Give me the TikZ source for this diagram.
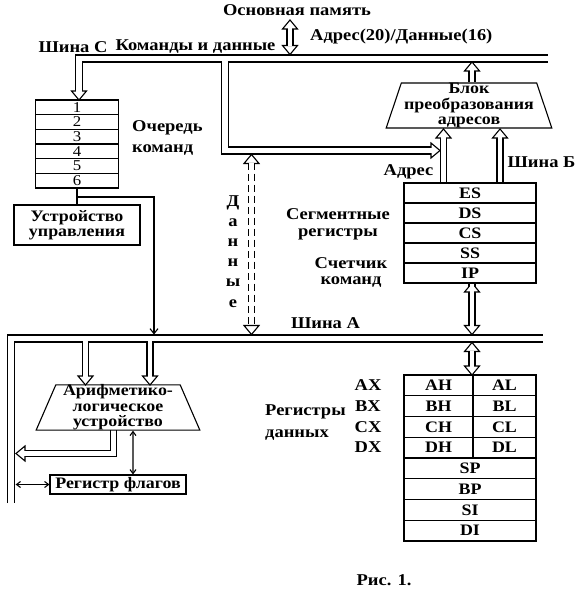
\documentclass[tikz,border=0pt]{standalone}
\usepackage{fontspec}
\setmainfont{Liberation Serif}[FakeStretch=1.12]
\usetikzlibrary{arrows.meta,shapes.geometric}

\tikzset{
  txt/.style={font=\fontsize{16.5}{15.5}\selectfont\bfseries, inner sep=0pt, align=center},
  box/.style={draw, line width=1.1pt, inner sep=0pt, align=center,
    font=\fontsize{16}{15.4}\selectfont\bfseries},
  cell/.style={box, minimum width=132pt, minimum height=20pt},
  dcell/.style={box, minimum height=20.75pt},
  qcell/.style={draw, line width=1.1pt, inner sep=0pt, minimum width=83pt,
    minimum height=14.67pt, font=\fontsize{15}{14}\selectfont},
  trap/.style={box, shape=trapezium, trapezium stretches=true},
  busblack/.style={line width=8.2pt},
  buswhite/.style={line width=5.8pt, white},
  armblack/.style={line width=7.2pt},
  armwhite/.style={line width=4.8pt, white},
  wire/.style={line width=1.1pt},
  barb/.style={wire, -{Straight Barb[length=5pt,width=8pt]}},
  dbarb/.style={wire, {Straight Barb[length=4pt,width=6pt]}-{Straight Barb[length=4pt,width=6pt]}},
}
% hollow arrow head, tip at #1, rotate 90 = up, -90 = down
\newcommand\head[2]{\filldraw[line width=1.1pt, fill=white, shift={(#1)}, rotate=#2]
  (0,0) -- (-9,7.5) -- (-9,-7.5) -- cycle;}
% double line buses and arrow shafts, drawn twice: black then white
\newcommand\pipes[2]{%
  \draw[#1] (79,92) -- (79,58.5) -- (548,58.5) (225,58.5) -- (225,150.5) -- (432,150.5);
  \draw[#1] (11,503) -- (11,338.5) -- (543,338.5);
  \draw[#2] (85.5,338.5) -- (85.5,377) (150,338.5) -- (150,377);
  \draw[#2] (113.5,430) -- (113.5,453.5) -- (24,453.5);
  \draw[#2] (290,28) -- (290,46.5);
  \draw[#2] (472,82) -- (472,70);
  \draw[#2] (443.5,183) -- (443.5,136) (500,183) -- (500,136);
  \draw[#2] (472,283) -- (472,326.5) (472,350.5) -- (472,367);
  \draw[#2, dash pattern=on 7pt off 4pt] (251.5,162.5) -- (251.5,326.5);
}

\begin{document}
\begin{tikzpicture}[x=1pt, y=-1pt]
\useasboundingbox (0,0) rectangle (577,591);

\pipes{busblack}{armblack}
\head{290,20}{90} \head{290,54.5}{-90}
\head{79,100}{-90} \head{440,150.5}{0}
\head{472,62}{90}
\head{443.5,129}{90} \head{500,129}{90}
\head{472,283}{90} \head{472,334.5}{-90}
\head{472,342.5}{90} \head{472,375}{-90}
\head{251.5,154.5}{90} \head{251.5,334.5}{-90}
\head{85.5,385}{-90} \head{150,385}{-90}
\head{16,453.5}{180}
\pipes{buswhite}{armwhite}

% blocks
\foreach \i in {1,...,6}
  \node[qcell] (q\i) at (77,{100+14.67*\i-7.33}) {\i};
\node[box, minimum width=126pt, minimum height=40pt] (cu) at (77,225) {Устройство\\управления};
\node[trap, minimum width=166pt, minimum height=45pt, trapezium angle=72] (blk) at (469,105.5) {Блок\\преобразования\\адресов};
\foreach \r [count=\i] in {ES,DS,CS,SS,IP}
  \node[cell] (s\i) at (470,{173+20*\i}) {\r};
\foreach \x/\h/\l [count=\i] in {AX/AH/AL,BX/BH/BL,CX/CH/CL,DX/DH/DL} {
  \node[dcell, minimum width=69pt] (h\i) at (438.5,{364.6+20.75*\i}) {\h};
  \node[dcell, minimum width=63pt] (l\i) at (504.5,{364.6+20.75*\i}) {\l};
  \node[txt] (x\i) at (368,{364.6+20.75*\i}) {\x};
}
\foreach \r [count=\i from 5] in {SP,BP,SI,DI}
  \node[dcell, minimum width=132pt] (d\i) at (470,{364.6+20.75*\i}) {\r};
\node[trap, minimum width=164pt, minimum height=45pt, trapezium angle=69] (alu) at (118,407.5) {Арифметико-\\логическое\\устройство};
\node[box, minimum width=136pt, minimum height=19pt] (flags) at (118,484.5) {Регистр флагов};

% thin connectors
\coordinate (tap) at (77,197);
\coordinate (busAtap) at (154,334.5);
\coordinate (busAflag) at (15.6,484.5);
\draw[wire] (q6.south) -- (cu.north);
\draw[barb] (tap) -| (busAtap);
\draw[dbarb] ([xshift=15pt]alu.south) -- ([xshift=15pt]flags.north);
\draw[dbarb] (busAflag) -- (flags.west);

% labels
\node[txt] (mem) at (297,10) {Основная память};
\node[txt, anchor=west] (adr) at (310,37) {Адрес(20)/Данные(16)};
\node[txt] (busC) at (73,47) {Шина С};
\node[txt] (cmd) at (195.5,47) {Команды и данные};
\node[txt, anchor=west, align=left] (queue) at (132,138) {Очередь\\[6pt]команд};
\node[txt] (adrB) at (408.5,172) {Адрес};
\node[txt] (busB) at (541.5,162) {Шина Б};
\node[txt] (seg) at (338,224) {Сегментные\\[1.5pt]регистры};
\node[txt] (ipc) at (351,272) {Счетчик\\[0.5pt]команд};
\node[txt] (busA) at (325.5,323) {Шина А};
\node[txt, anchor=west, align=left] (dreg) at (265,423) {Регистры\\[6.5pt]данных};
\foreach \c [count=\i] in {Д,а,н,н,ы,е}
  \node[txt, anchor=base] (dat\i) at (233,{206+20.2*(\i-1)}) {\c};
\node[txt] (fig) at (384,580) {Рис. 1.};
\end{tikzpicture}
\end{document}
